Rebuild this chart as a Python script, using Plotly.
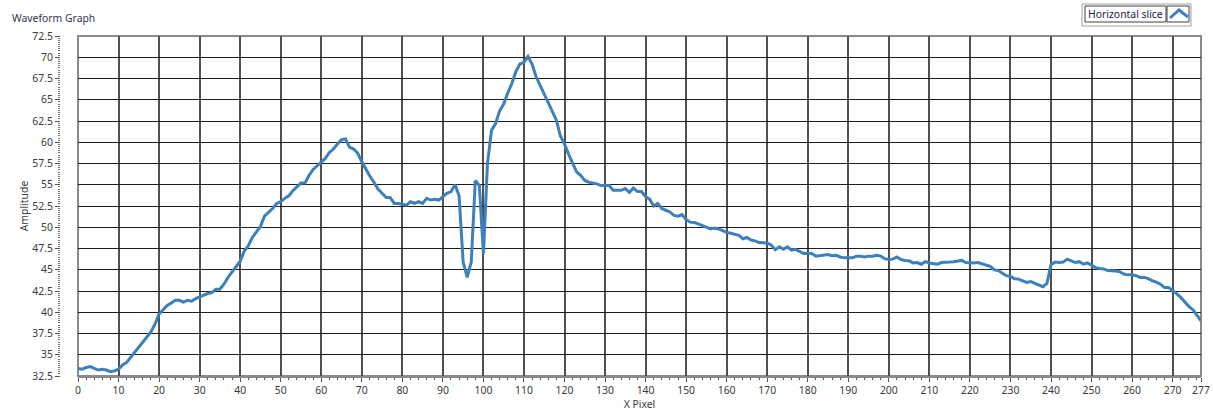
import plotly.graph_objects as go

# ---- data ----
x_pixel = list(range(0, 278))
amplitude = [
    33.4, 33.3, 33.5, 33.6, 33.4, 33.2, 33.3, 33.2, 33.0, 33.1,
    33.3, 33.8, 34.1, 34.7, 35.2, 35.8, 36.4, 37.0, 37.7, 38.6,
    39.8, 40.3, 40.8, 41.1, 41.4, 41.4, 41.2, 41.4, 41.3, 41.6,
    41.8, 42.0, 42.2, 42.3, 42.7, 42.7, 43.3, 44.1, 44.7, 45.4,
    46.0, 47.2, 47.8, 48.8, 49.4, 50.1, 51.3, 51.7, 52.2, 52.8,
    53.0, 53.4, 53.7, 54.3, 54.7, 55.2, 55.2, 56.1, 56.8, 57.2,
    57.7, 58.1, 58.8, 59.2, 59.8, 60.3, 60.4, 59.4, 59.2, 58.7,
    57.7, 56.8, 56.0, 55.3, 54.5, 54.0, 53.5, 53.5, 52.8, 52.8,
    52.7, 52.6, 53.0, 52.8, 53.0, 52.8, 53.4, 53.2, 53.3, 53.2,
    53.6, 54.0, 54.2, 55.0, 53.7, 45.9, 44.1, 45.9, 55.5, 54.9,
    46.9, 57.5, 61.4, 62.2, 63.7, 64.5, 65.8, 66.9, 68.3, 69.2,
    69.4, 70.1, 69.2, 67.7, 66.7, 65.7, 64.5, 63.5, 62.6, 60.7,
    59.8, 58.6, 57.5, 56.5, 56.1, 55.5, 55.3, 55.2, 55.1, 54.9,
    54.9, 54.9, 54.35, 54.35, 54.35, 54.55, 54.1, 54.6, 54.2, 54.2,
    53.6, 53.3, 52.5, 52.8, 52.2, 52.0, 51.8, 51.4, 51.3, 51.5,
    50.9, 50.6, 50.55, 50.4, 50.2, 50.0, 49.8, 49.9, 49.8, 49.6,
    49.4, 49.3, 49.2, 49.05, 48.65, 48.8, 48.5, 48.4, 48.2, 48.2,
    48.15, 47.9, 47.35, 47.7, 47.4, 47.7, 47.3, 47.4, 47.1, 46.9,
    46.9, 46.9, 46.6, 46.65, 46.7, 46.8, 46.65, 46.7, 46.5, 46.4,
    46.4, 46.4, 46.6, 46.6, 46.5, 46.6, 46.6, 46.7, 46.6, 46.3,
    46.2, 46.25, 46.5, 46.2, 46.1, 46.05, 45.8, 45.85, 45.65, 45.95,
    45.8, 45.7, 45.65, 45.85, 45.85, 45.9, 45.95, 46.05, 46.1, 45.85,
    45.8, 45.8, 45.85, 45.7, 45.55, 45.4, 45.0, 44.9, 44.6, 44.3,
    44.2, 43.95, 43.9, 43.7, 43.5, 43.6, 43.4, 43.2, 43.0, 43.4,
    45.6, 45.9, 45.85, 45.9, 46.25, 46.05, 45.85, 45.95, 45.65, 45.8,
    45.5, 45.25, 45.15, 45.1, 44.9, 44.9, 44.85, 44.75, 44.5, 44.4,
    44.4, 44.3, 44.1, 44.1, 43.95, 43.7, 43.55, 43.3, 42.9, 42.9,
    42.6, 42.2, 41.75, 41.2, 40.7, 40.3, 39.6, 39.0,
]
x_tickvals = [0, 10, 20, 30, 40, 50, 60, 70, 80, 90, 100, 110, 120, 130, 140,
              150, 160, 170, 180, 190, 200, 210, 220, 230, 240, 250, 260, 270, 277]
y_tickvals = [32.5, 35, 37.5, 40, 42.5, 45, 47.5, 50, 52.5, 55, 57.5, 60,
              62.5, 65, 67.5, 70, 72.5]
y_ticktext = ["32.5", "35", "37.5", "40", "42.5", "45", "47.5", "50", "52.5",
              "55", "57.5", "60", "62.5", "65", "67.5", "70", "72.5"]
series_name = "Horizontal slice"
graph_title = "Waveform Graph"

# ---- layout geometry (pixels) ----
W, H = 1213, 413
ML, MR, MT, MB = 60, 12, 36, 37
PLOT_LEFT = 78
PW = W - ML - MR
PH = H - MT - MB


def px(xp):
    return (xp - ML) / PW


def py(yp):
    return 1 - (yp - MT) / PH


FONT = "Noto Sans"
FS = 10.4
TEXT = "#3a3a3a"
GRID = "#1e1e1e"
XGRID = "#505050"
BORDER = "#8a8a8a"
LINE = "#3d80ba"

fig = go.Figure()
fig.add_trace(go.Scatter(
    x=x_pixel, y=amplitude, mode="lines", name=series_name,
    line=dict(color=LINE, width=3),
    showlegend=False,
))

fig.update_layout(
    width=W, height=H,
    margin=dict(l=ML, r=MR, t=MT, b=MB, autoexpand=False),
    paper_bgcolor="white", plot_bgcolor="white",
    font=dict(family=FONT, size=FS, color=TEXT),
    xaxis=dict(
        domain=[px(PLOT_LEFT), 1],
        range=[0, 277],
        automargin=False,
        tickmode="array", tickvals=x_tickvals,
        ticks="outside", ticklen=4, tickcolor="#555", tickwidth=1,
        minor=dict(dtick=2, tick0=0, ticks="outside", ticklen=2,
                   tickcolor="#555", showgrid=False),
        showgrid=True, gridcolor=XGRID, gridwidth=1.5,
        zeroline=False,
        showline=True, linecolor=BORDER, linewidth=2, mirror=False,
        tickfont=dict(family=FONT, size=FS, color=TEXT),
        title=dict(text="X Pixel", font=dict(family=FONT, size=FS, color=TEXT),
                   standoff=0),
    ),
    yaxis=dict(
        anchor="free", position=0,
        range=[32.5, 72.5],
        automargin=False,
        tickmode="array", tickvals=y_tickvals, ticktext=y_ticktext,
        ticks="outside", ticklen=5, tickcolor="#555", tickwidth=1,
        minor=dict(dtick=0.25, tick0=32.5, ticks="outside", ticklen=2,
                   tickcolor="#777", showgrid=False),
        showgrid=True, gridcolor=GRID, gridwidth=1,
        zeroline=False, showline=False,
        tickfont=dict(family=FONT, size=FS, color=TEXT),
        title=dict(text="Amplitude", font=dict(family=FONT, size=FS, color=TEXT),
                   standoff=0),
    ),
)

# plot border
fig.add_shape(type="rect", xref="x domain", yref="y domain",
              x0=0, x1=1, y0=0, y1=1,
              line=dict(color=BORDER, width=2), layer="below")

# graph caption
fig.add_annotation(text=graph_title, xref="paper", yref="paper",
                   x=px(10), y=py(18), xanchor="left", yanchor="middle",
                   showarrow=False,
                   font=dict(family=FONT, size=FS, color="#333355"))

# legend-like plot key (top right)
fig.add_shape(type="rect", xref="paper", yref="paper",
              x0=px(1082), x1=px(1191), y0=py(26), y1=py(4),
              line=dict(color="#a0a0a0", width=1), fillcolor="white")
fig.add_shape(type="rect", xref="paper", yref="paper",
              x0=px(1085), x1=px(1166), y0=py(22), y1=py(6),
              line=dict(color="#404040", width=1))
fig.add_shape(type="rect", xref="paper", yref="paper",
              x0=px(1167), x1=px(1189), y0=py(22), y1=py(6),
              line=dict(color="#404040", width=1))
fig.add_shape(type="path", xref="paper", yref="paper",
              path=f"M {px(1170)} {py(18)} L {px(1179)} {py(10)} L {px(1188)} {py(17)}",
              line=dict(color=LINE, width=3))
fig.add_annotation(text=series_name, xref="paper", yref="paper",
                   x=px(1125.5), y=py(14), xanchor="center", yanchor="middle",
                   showarrow=False,
                   font=dict(family=FONT, size=FS, color="#202040"))

fig.write_html("out.html",
               config={"displayModeBar": False},
               post_script="document.body.style.margin='0';"
                           "document.body.style.overflow='hidden';")
